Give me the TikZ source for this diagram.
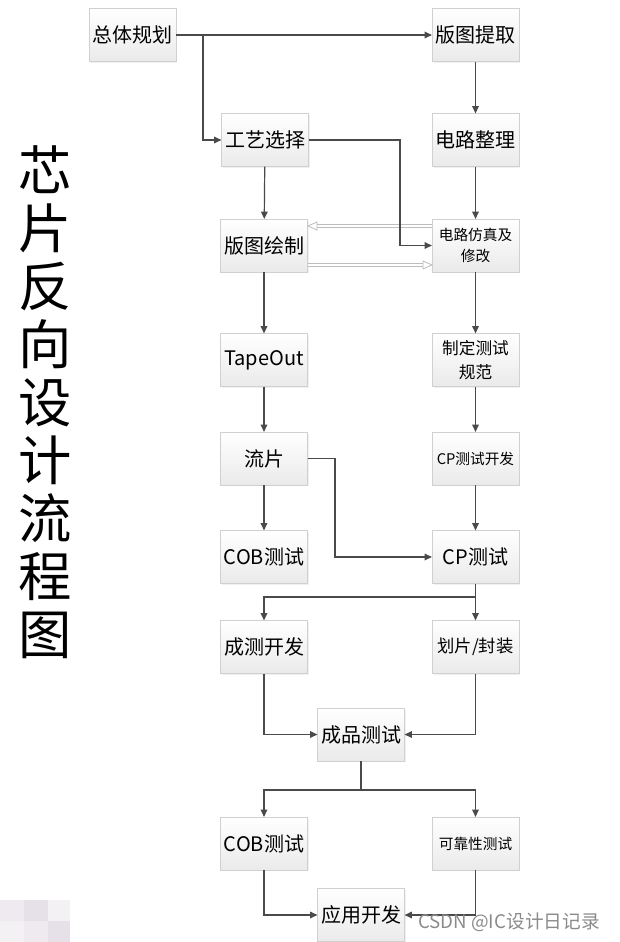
\documentclass[tikz,border=0pt]{standalone}
\usepackage{fontspec}
\setmainfont{Noto Sans CJK SC}
\usetikzlibrary{arrows.meta,shadows}
\definecolor{lnc}{HTML}{4A4A4A}
\definecolor{bxb}{HTML}{EAEAEA}
\definecolor{bdc}{HTML}{D0D0D0}
\definecolor{dbl}{HTML}{BDBDBD}
\definecolor{wmc}{HTML}{8A8A8A}
\definecolor{mz1}{HTML}{EEEAEF}
\definecolor{mz2}{HTML}{E6E0E8}
\definecolor{mz3}{HTML}{F3F1F4}
\begin{document}
\begin{tikzpicture}[x=0.75pt,y=-0.75pt,
  box/.style={draw=bdc, top color=white, bottom color=bxb, minimum width=65pt, minimum height=39.5pt,
    inner sep=1pt, align=center, font=\fontsize{15}{17}\selectfont,
    drop shadow={opacity=0.12, shadow xshift=1pt, shadow yshift=-1pt}},
  sbox/.style={box, font=\fontsize{11}{16}\selectfont},
  conn/.style={draw=lnc, line width=0.9pt, -{Triangle[length=5.5pt,width=5pt]}},
  plain/.style={draw=lnc, line width=0.9pt},
  dshaft/.style={draw=dbl, line width=2.6pt},
  dcore/.style={draw=white, line width=1.2pt},
  dtip/.style={draw=dbl, line width=0.6pt, fill=white}
]
\useasboundingbox (0,0) rectangle (620,942);

% title
\node[font=\fontsize{40}{43.5}\selectfont, align=center, inner sep=0] (title) at (45,402)
  {芯\\片\\反\\向\\设\\计\\流\\程\\图};

% boxes
\node[box] (zt) at (132.5,35) {总体规划};
\node[box] (bt) at (475.5,35) {版图提取};
\node[box] (gy) at (265,140) {工艺选择};
\node[box] (dl) at (475.5,140) {电路整理};
\node[box] (bh) at (264,245.5) {版图绘制};
\node[sbox] (fz) at (475.5,245.5) {电路仿真及\\修改};
\node[box] (to) at (264,360) {TapeOut};
\node[sbox, font=\fontsize{12.5}{18}\selectfont] (zd) at (475.5,360) {制定测试\\规范};
\node[box] (lp) at (264,458.5) {流片};
\node[sbox] (cpk) at (475.5,458.5) {CP测试开发};
\node[box] (cob1) at (264,557) {COB测试};
\node[box] (cp) at (475.5,557) {CP测试};
\node[box] (ck) at (264,647) {成测开发};
\node[box, font=\fontsize{13}{16}\selectfont] (hp) at (475.5,647) {划片/封装};
\node[box] (cc) at (361,734.5) {成品测试};
\node[box] (cob2) at (264,843.5) {COB测试};
\node[sbox] (kk) at (475.5,843.5) {可靠性测试};
\node[box] (yy) at (361,915) {应用开发};

% coordinates
\coordinate (j1) at (203,35);
\coordinate (j2) at (400,140);
\coordinate (j3) at (335,458.5);
\coordinate (j4) at (475.5,597);
\coordinate (j5) at (361,790);
\coordinate (a1) at (432,226);
\coordinate (a2) at (316,226);
\coordinate (a3) at (308,265);
\coordinate (a4) at (424,265);

% hollow grey double arrows (drawn first, under the dark line)
\draw[dshaft] (a1) -- (a2);
\draw[dcore] (a1) -- (a2);
\draw[dtip] (308,226) -- (317,222) -- (317,230) -- cycle;
\draw[dshaft] (a3) -- (a4);
\draw[dcore] (a3) -- (a4);
\draw[dtip] (432,265) -- (423,261) -- (423,269) -- cycle;

% connectors
\draw[conn] (zt.east) -- (bt.west);
\draw[conn] (j1) |- (gy.west);
\draw[conn] (bt) -- (dl);
\draw[conn] (dl) -- (fz);
\draw[conn] (gy) -- (bh);
\draw[conn] (gy.east) -- (j2) |- (fz.west);
\draw[conn] (bh) -- (to);
\draw[conn] (fz) -- (zd);
\draw[conn] (to) -- (lp);
\draw[conn] (zd) -- (cpk);
\draw[conn] (lp) -- (cob1);
\draw[conn] (cpk) -- (cp);
\draw[conn] (lp.east) -- (j3) |- (cp.west);
\draw[conn] (cp.south) -- (hp.north);
\draw[conn] (j4) -| (ck.north);
\draw[conn] (ck.south) |- (cc.west);
\draw[conn] (hp.south) |- (cc.east);
\draw[plain] (cc.south) -- (j5);
\draw[conn] (j5) -| (cob2.north);
\draw[conn] (j5) -| (kk.north);
\draw[conn] (cob2.south) |- (yy.west);
\draw[conn] (kk.south) |- (yy.east);

% mosaic (blurred corner)
\fill[mz1] (0,900) rectangle (24,921);
\fill[mz2] (24,900) rectangle (48,921);
\fill[mz3] (48,900) rectangle (70,921);
\fill[mz3] (0,921) rectangle (24,942);
\fill[mz1] (24,921) rectangle (48,942);
\fill[mz2] (48,921) rectangle (70,942);

% watermark
\node[text=wmc, font=\fontsize{14}{16}\selectfont, anchor=west, inner sep=0] (wm) at (418,922) {CSDN @IC设计日记录};
\end{tikzpicture}
\end{document}
